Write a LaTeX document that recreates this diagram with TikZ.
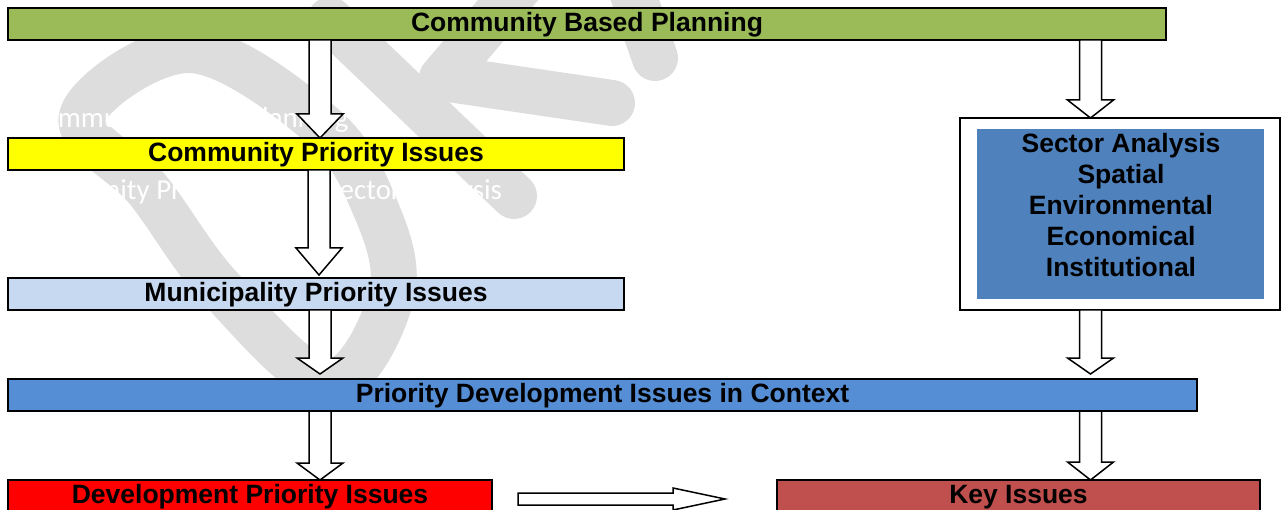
\documentclass[tikz,border=0pt]{standalone}
\usepackage{fontspec}
\usepackage{graphicx}
\setmainfont{Liberation Sans}
\newfontfamily\wmfont{Carlito}
\usetikzlibrary{calc}
\definecolor{cgreen}{HTML}{9BBB59}
\definecolor{cyellow}{HTML}{FFFF00}
\definecolor{clblue}{HTML}{C6D9F1}
\definecolor{cbar}{HTML}{558ED5}
\definecolor{csector}{HTML}{4F81BD}
\definecolor{cred}{HTML}{FF0000}
\definecolor{ckey}{HTML}{C0504D}
\definecolor{wm}{RGB}{221,221,221}
\newcommand\blkdown[3]{%
  \draw[blockarr] let \p1=(#1), \p2=(#2) in
   (\x1-11pt,\y1) -- (\x1-11pt,\y2+#3) -- (\x1-23pt,\y2+#3) -- (\x1,\y2)
   -- (\x1+23pt,\y2+#3) -- (\x1+11pt,\y2+#3) -- (\x1+11pt,\y1) -- cycle;}
\newcommand\blkright[2]{%
  \draw[blockarr] let \p1=(#1), \p2=(#2) in
   (\x1,\y1+6pt) -- (\x2-52pt,\y1+6pt) -- (\x2-52pt,\y1+11pt) -- (\x2,\y1)
   -- (\x2-52pt,\y1-11pt) -- (\x2-52pt,\y1-6pt) -- (\x1,\y1-6pt) -- cycle;}
\tikzset{
  bar/.style={draw=black, line width=2.2pt, inner sep=0pt, outer sep=0pt,
    minimum height=32pt, text height=21pt, text depth=5.5pt,
    font=\bfseries\fontsize{26.5}{30}\selectfont},
  blockarr/.style={draw=black, fill=white, line width=1.5pt, line join=miter},
  wmark/.style={draw=wm, line width=46pt, line cap=round, line join=round},
  wtext/.style={anchor=base west, inner sep=0pt, text=white,
    font=\wmfont\fontsize{28.9}{34}\selectfont},
}
\begin{document}
\begin{tikzpicture}[x=1pt,y=-1pt]
\useasboundingbox (0,0) rectangle (1284,510);
\clip (0,0) rectangle (1284,510);
% watermark
\draw[wmark] plot[smooth cycle, tension=0.6] coordinates {(82,116) (190,50) (318,122) (372,200) (392,293) (330,382) (222,290) (148,190)};
\draw[wmark] (330,20) -- (514,196);
\draw[wmark] (525,-20) -- (442,78) -- (612,103);
\draw[wmark] (628,-20) -- (655,58);
\node[wtext] (w1) at (27,128) {Community Based Planning};
\node[wtext] (w2) at (13,200) {Community Priority Issues Sector Analysis};
% boxes
\node[bar, fill=cgreen, minimum width=1158pt] (cbp) at (587,24) {Community Based Planning};
\node[bar, fill=cyellow, minimum width=616pt] (cpi) at (316,154) {Community Priority Issues};
\node[bar, fill=clblue, minimum width=616pt] (mpi) at (316,294) {Municipality Priority Issues};
\node[bar, fill=cbar, minimum width=1189pt] (pdi) at (602.5,395) {Priority Development Issues in Context};
\node[bar, fill=cred, minimum width=484pt] (dpi) at (250,496) {Development Priority Issues};
\node[bar, fill=ckey, minimum width=483pt] (key) at (1018.5,496) {Key Issues};
\node[draw=black, line width=1.5pt, fill=white, inner sep=0pt, outer sep=0pt,
      minimum width=320pt, minimum height=192pt] (sec) at (1120,214) {};
\node[fill=csector, inner sep=0pt, minimum width=287pt, minimum height=170pt] (secin) at (1120.5,214) {};
\node[align=center, inner sep=0pt, font=\bfseries\fontsize{26.5}{31}\selectfont] (sectxt) at (1121,205)
  {Sector Analysis\\Spatial\\Environmental\\Economical\\Institutional};
% arrows
\coordinate (axl) at (320,0);
\coordinate (axm) at (319,0);
\coordinate (axr) at (1090.5,0);
\blkdown{cbp.south -| axl}{cpi.north -| axl}{24pt}
\blkdown{cpi.south -| axm}{$(mpi.north -| axm)+(0,-3)$}{27pt}
\blkdown{mpi.south -| axl}{$(pdi.north -| axl)+(0,-5)$}{16pt}
\blkdown{pdi.south -| axl}{dpi.north -| axl}{17pt}
\blkdown{cbp.south -| axr}{sec.north -| axr}{18pt}
\blkdown{sec.south -| axr}{$(pdi.north -| axr)+(0,-5)$}{16pt}
\blkdown{pdi.south -| axr}{key.north -| axr}{18pt}
\coordinate (h1) at (518,499);
\coordinate (h2) at (725,499);
\blkright{h1}{h2}
\end{tikzpicture}
\end{document}
